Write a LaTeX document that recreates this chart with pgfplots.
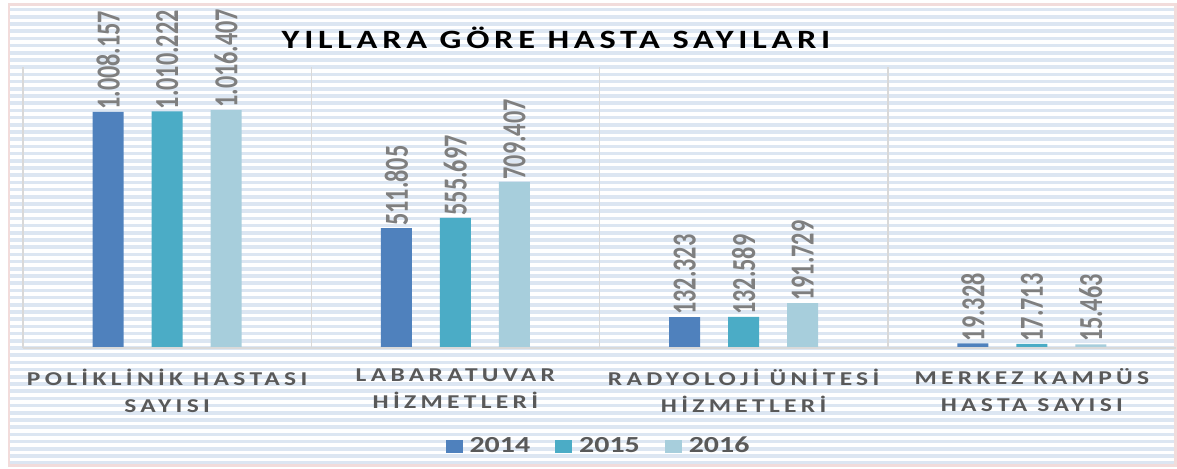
\documentclass[border=0pt]{standalone}
\usepackage{fontspec}
\setmainfont{Carlito}
\usepackage{pgfplots}
\pgfplotsset{compat=1.18}
\usetikzlibrary{backgrounds}
\newfontfamily\titlefont[FakeStretch=1.3,LetterSpace=18]{Carlito}
\newfontfamily\catfont[FakeStretch=1.3,LetterSpace=22]{Carlito}
\newfontfamily\legfont[FakeStretch=1.3]{Carlito}
\newfontfamily\valfont[FakeStretch=0.72]{Carlito}
\definecolor{cA}{HTML}{4F81BD}
\definecolor{cB}{HTML}{4BACC6}
\definecolor{cC}{HTML}{A7CEDC}
\definecolor{stripe}{HTML}{DCE6F2}
\definecolor{frame}{HTML}{F2DCDB}
\definecolor{sepgray}{HTML}{D9D9D9}
\definecolor{txtdark}{HTML}{595959}
\definecolor{txtval}{HTML}{7F7F7F}
\begin{document}
\begin{tikzpicture}
\begin{axis}[
  scale only axis, width=576.5pt, height=140.5pt,
  xmin=-0.5, xmax=3.5, ymin=0, ymax=1200000,
  ybar=14pt, bar width=15.5pt,
  axis line style={draw=none},
  xtick={0,1,2,3}, xtick style={draw=none},
  ytick=\empty,
  xticklabels={{POLİKLİNİK HASTASI\\SAYISI},{LABARATUVAR\\HİZMETLERİ},{RADYOLOJİ ÜNİTESİ\\HİZMETLERİ},{MERKEZ KAMPÜS\\HASTA SAYISI}},
  xticklabel style={align=center, anchor=north, yshift=-2.5pt, text=txtdark,
    font=\fontsize{9.8}{13.5}\selectfont\catfont\bfseries},
  clip=false,
  point meta=explicit symbolic,
  nodes near coords,
  nodes near coords style={rotate=90, anchor=west, inner sep=1pt, text=txtval,
    font=\fontsize{16.8}{18}\selectfont\valfont\bfseries},
  legend columns=3,
  legend style={at={(0.5,-0.349)}, anchor=center, draw=none, fill=none,
    font=\fontsize{11.5}{13}\selectfont\legfont\bfseries, text=txtdark,
    /tikz/every odd column/.append style={column sep=1.5pt},
    /tikz/every even column/.append style={column sep=10.5pt}},
  legend image code/.code={\fill[#1] (0pt,-3.25pt) rectangle (8.5pt,3.25pt);},
]
\addplot[fill=cA, draw=none] coordinates {(0,1008157) [1.008.157] (1,511805) [511.805] (2,132323) [132.323] (3,19328) [19.328]};
\addplot[fill=cB, draw=none] coordinates {(0,1010222) [1.010.222] (1,555697) [555.697] (2,132589) [132.589] (3,17713) [17.713]};
\addplot[fill=cC, draw=none] coordinates {(0,1016407) [1.016.407] (1,709407) [709.407] (2,191729) [191.729] (3,15463) [15.463]};
\legend{2014,2015,2016}
\draw[sepgray, line width=0.75pt] (axis cs:-0.5,0) -- (axis cs:3.5,0);
\draw[sepgray, line width=0.75pt] (axis cs:-0.5,0) -- (axis cs:-0.5,1200000);
\draw[sepgray, line width=0.75pt] (axis cs:0.5,0) -- (axis cs:0.5,1200000);
\draw[sepgray, line width=0.75pt] (axis cs:1.5,0) -- (axis cs:1.5,1200000);
\draw[sepgray, line width=0.75pt] (axis cs:2.5,0) -- (axis cs:2.5,1200000);
\end{axis}
\begin{scope}[on background layer, shift={(current axis.south west)}, x=1pt, y=1pt]
\foreach \k in {0,...,63} {\fill[stripe] (-6.5,{-58.5+\k*3.6}) rectangle (575.5,{-58.5+\k*3.6+1.8});}
\draw[frame,line width=1.25pt] (-7,-58.75) rectangle (576.25,171.75);
\end{scope}
\begin{scope}[shift={(current axis.south west)}, x=1pt, y=1pt]
\node[font=\fontsize{13.2}{15}\selectfont\titlefont\bfseries,text=black] at (266.5,155) {YILLARA GÖRE HASTA SAYILARI};
\end{scope}
\pgfresetboundingbox
\path[use as bounding box, shift={(current axis.south west)}, x=1pt, y=1pt] (-11.5,-60) rectangle (577,174);
\end{tikzpicture}
\end{document}
